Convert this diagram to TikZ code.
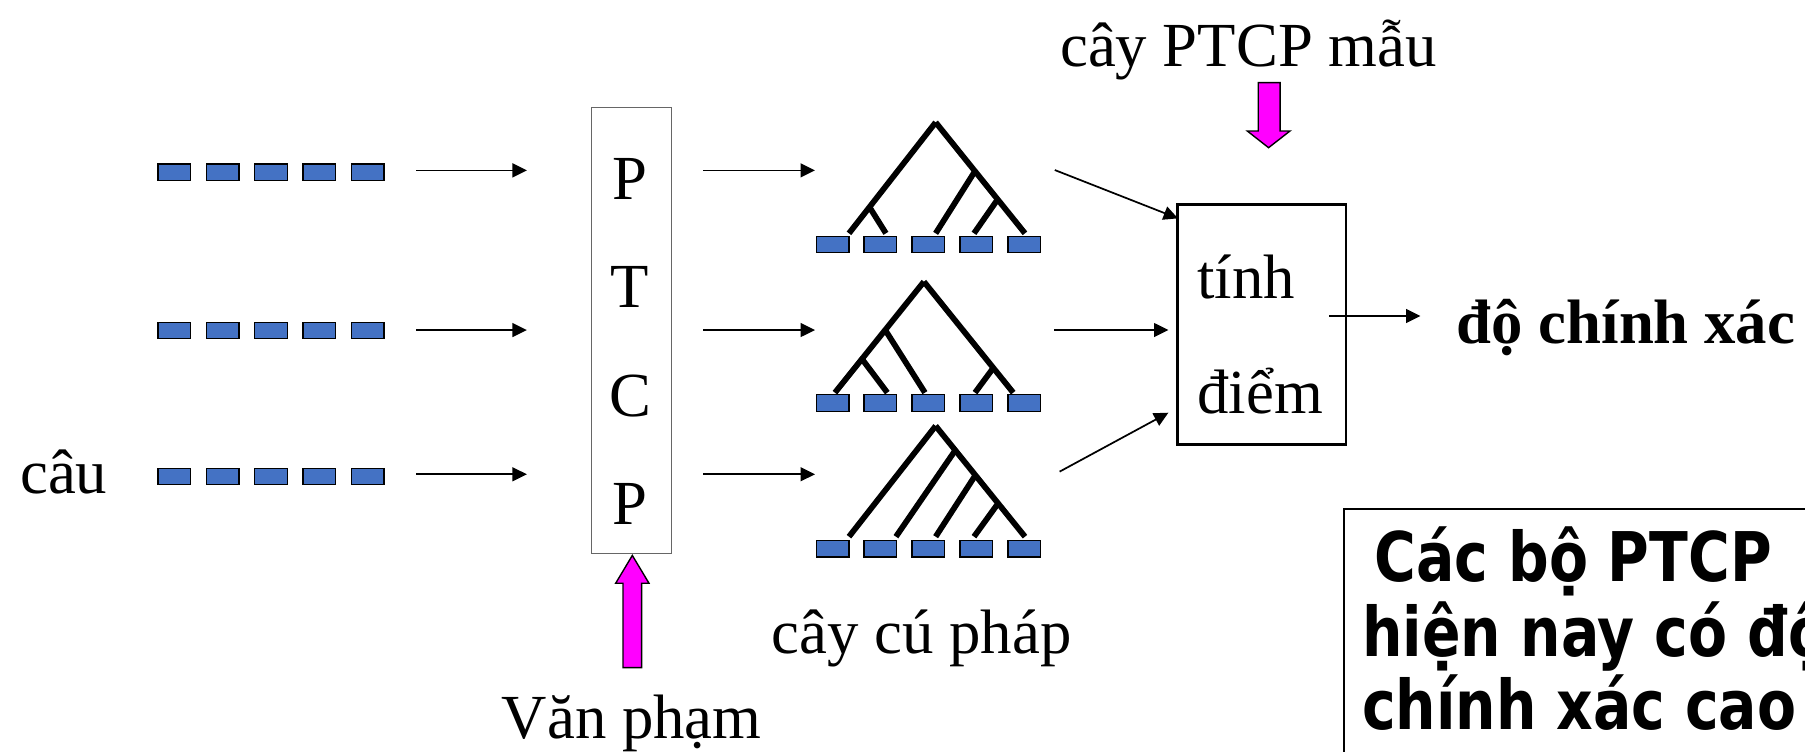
\documentclass[tikz,border=0pt]{standalone}
\usepackage{fontspec}
\setmainfont{Liberation Serif}
\newfontfamily\boxfont[FakeStretch=0.83]{DejaVu Sans}
\usetikzlibrary{arrows.meta}
\definecolor{leafblue}{HTML}{4472C4}
\definecolor{mag}{HTML}{FF00FF}
\tikzset{
  word/.style={inner sep=0pt, font=\fontsize{54.5}{60}\selectfont},
  wordbase/.style={word, anchor=base west},
  letter/.style={word, anchor=base},
  tok/.style={draw=black, line width=1.2pt, fill=leafblue, minimum width=28.3pt,
    minimum height=14.3pt, inner sep=0pt, anchor=north west},
  flow/.style={line width=1.5pt, -{Triangle[length=12.5pt,width=12pt]}},
  branch/.style={line width=5pt, line cap=butt},
  bigarrow/.style={draw=black, line width=1.2pt, fill=mag, line join=miter},
  notefont/.style={inner sep=0pt, anchor=base west,
    font=\boxfont\bfseries\fontsize{59.5}{64}\selectfont},
}
\begin{document}
\begin{tikzpicture}[x=1pt,y=-1pt]
\useasboundingbox (0,0) rectangle (1568,653);

% sentences
\node[wordbase] (cau) at (17.4,428.5) {câu};
\foreach \r/\y in {1/141.9,2/279.4,3/406.2}
  \foreach \i in {0,...,4}
    \node[tok] (s\r\i) at ({136.7+42*\i},\y) {};

% arrows sentences -> PTCP
\foreach \r/\y in {1/148,2/286.7,3/412}{
  \coordinate (ina\r) at (361.4,\y);
  \coordinate (inb\r) at (457.7,\y);
  \draw[flow] (ina\r) -- (inb\r);
}

% PTCP box
\node[draw=black!60, line width=0.9pt, minimum width=69.5pt, minimum height=387.5pt,
  inner sep=0pt, anchor=north west] (ptcp) at (513.1,93.2) {};
\node[letter] (l1) at (547.3,172.9) {P};
\node[letter] (l2) at (547.3,267) {T};
\node[letter] (l3) at (547.3,361.4) {C};
\node[letter] (l4) at (547.3,456) {P};

% grammar arrow
\draw[bigarrow] (541.2,580) -- (541.2,506.7) -- (534.8,506.7) -- (549.3,482.5)
  -- (563.8,506.7) -- (557.4,506.7) -- (557.4,580) -- cycle;
\node[wordbase] (gram) at (435.8,641.4) {Văn phạm};

% arrows PTCP -> trees
\foreach \r/\y in {1/148,2/286.7,3/412}{
  \coordinate (pa\r) at (611,\y);
  \coordinate (pb\r) at (708,\y);
  \draw[flow] (pa\r) -- (pb\r);
}

% leaves
\foreach \r/\y in {1/204.7,2/342.3,3/469}
  \foreach \i in {0,...,4}
    \node[tok] (t\r\i) at ({708.5+41.6*\i},\y) {};

% tree 1
\draw[branch] (812.8,106.3) -- (737.5,202.7);
\draw[branch] (812.8,106.3) -- (890.4,202.7);
\draw[branch] (756.0,181.0) -- (769.6,202.7);
\draw[branch] (846.7,149.1) -- (812.8,202.7);
\draw[branch] (866.3,173.7) -- (846.1,202.7);
% tree 2
\draw[branch] (802.6,244.7) -- (725.3,341.1);
\draw[branch] (802.6,244.7) -- (880.2,341.1);
\draw[branch] (769.0,286.7) -- (803.5,341.1);
\draw[branch] (749.0,312.1) -- (770.8,341.1);
\draw[branch] (862.0,320.8) -- (847.0,341.1);
% tree 3
\draw[branch] (812.8,370) -- (737.5,466.2);
\draw[branch] (812.8,370) -- (890.4,466.2);
\draw[branch] (829.0,392.4) -- (778.3,466.2);
\draw[branch] (846.5,414.1) -- (812.8,466.2);
\draw[branch] (866.0,438.7) -- (846.1,466.2);

\node[wordbase] (trees) at (670.3,567.5) {cây cú pháp};

% gold standard
\node[wordbase] (gold) at (920.8,57.9) {cây PTCP mẫu};
\draw[bigarrow] (1093,71.8) -- (1093,113.8) -- (1083.5,113.8) -- (1102,128.3)
  -- (1120.6,113.8) -- (1112,113.8) -- (1112,71.8) -- cycle;

% scoring box
\node[draw=black, line width=2.4pt, minimum width=146pt, minimum height=208pt,
  inner sep=0pt, anchor=north west] (score) at (1022,176.6) {};
\node[wordbase] (tinh) at (1040,259.2) {tính};
\node[wordbase] (diem) at (1040,359) {điểm};

% arrows trees -> score
\coordinate (sa1) at (916.3,147.7);
\coordinate (sb1) at (1023.3,189.7);
\coordinate (sa2) at (916,286.7);
\coordinate (sb2) at (1015,286.7);
\coordinate (sa3) at (920.5,409.7);
\coordinate (sb3) at (1015,358.5);
\draw[flow] (sa1) -- (sb1);
\draw[flow] (sa2) -- (sb2);
\draw[flow] (sa3) -- (sb3);

% output
\coordinate (oa) at (1154.5,274.5);
\coordinate (ob) at (1234,274.5);
\draw[flow] (oa) -- (ob);
\node[wordbase, font=\fontsize{54.5}{60}\selectfont\bfseries] (acc) at (1265.4,298.2) {độ chính xác};

% note box
\node[draw=black, line width=1.5pt, minimum width=500pt, minimum height=300pt,
  inner sep=0pt, anchor=north west] (note) at (1167,441.6) {};
\node[notefont] (n1) at (1194,505.3) {Các bộ PTCP};
\node[notefont] (n2) at (1183,570.4) {hiện nay có độ};
\node[notefont] (n3) at (1183,634) {chính xác cao};
\end{tikzpicture}
\end{document}
